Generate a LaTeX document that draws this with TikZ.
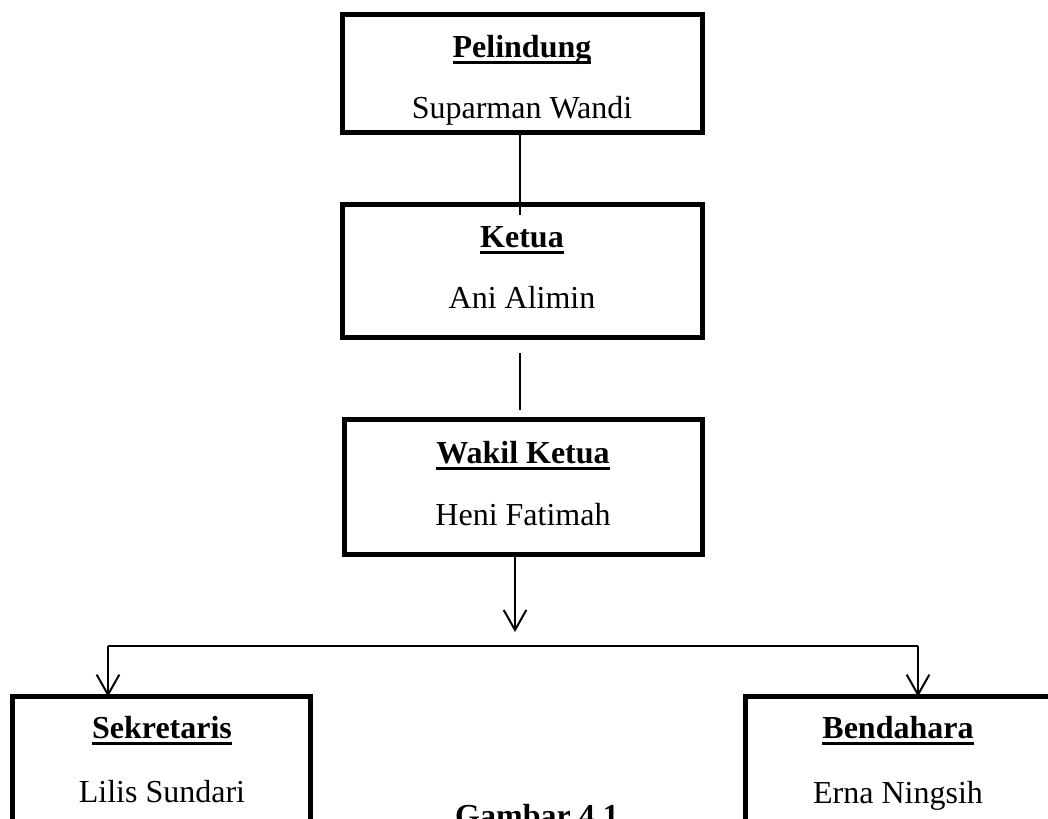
\documentclass[tikz,border=0pt]{standalone}
\usepackage{fontspec}
\setmainfont{Liberation Serif}
\usetikzlibrary{arrows.meta}
\newcommand{\garisbawah}[1]{\setbox0=\hbox{#1}\rlap{\rule[-5.2pt]{\wd0}{2.4pt}}\box0}
\begin{document}
\begin{tikzpicture}[x=0.75pt, y=-0.75pt,
    kotak/.style={draw, line width=3.75pt, inner sep=0pt, outer sep=0pt},
    judul/.style={anchor=base, inner sep=0pt, font=\fontsize{24}{28}\selectfont\bfseries},
    nama/.style={anchor=base, inner sep=0pt, font=\fontsize{24}{28}\selectfont},
    garis/.style={line width=1.1pt},
    panah/.style={line width=1.1pt, -{Straight Barb[length=15pt, width=17pt, line width=1.5pt]}}]
    \useasboundingbox (0, 0) rectangle (1048, 818);
    \clip (0, 0) rectangle (1048, 818);
    \fill[white] (0, 0) rectangle (1048, 818);

    \node[kotak, minimum width=270pt, minimum height=88.5pt] (pel) at (522.5, 73.5) {};
    \node[kotak, minimum width=270pt, minimum height=99.75pt] (ket) at (522.5, 271) {};
    \node[kotak, minimum width=268.5pt, minimum height=101.25pt] (wak) at (523.5, 487) {};
    \node[kotak, minimum width=223.5pt, minimum height=110pt] (sek) at (161.5, 770) {};
    \node[kotak, minimum width=228.75pt, minimum height=110pt] (ben) at (898, 770) {};

    \node[judul] (pelT) at (522, 57) {\garisbawah{Pelindung}};
    \node[nama] (pelN) at (522, 118) {Suparman Wandi};
    \node[judul] (ketT) at (522, 247) {\garisbawah{Ketua}};
    \node[nama] (ketN) at (522, 308) {Ani Alimin};
    \node[judul] (wakT) at (523, 463) {\garisbawah{Wakil Ketua}};
    \node[nama] (wakN) at (523, 525) {Heni Fatimah};
    \node[judul] (sekT) at (162, 738) {\garisbawah{Sekretaris}};
    \node[nama] (sekN) at (162, 802) {Lilis Sundari};
    \node[judul] (benT) at (898, 738) {\garisbawah{Bendahara}};
    \node[nama] (benN) at (898, 803) {Erna Ningsih};
    \node[judul] (cap) at (537, 826) {Gambar 4.1};

    \coordinate (ketIn) at (520, 215);
    \coordinate (ketOut) at (520, 353);
    \coordinate (wakIn) at (520, 410);
    \coordinate (wakTip) at (515, 632);
    \coordinate (busL) at (108, 646);
    \coordinate (busR) at (918, 646);

    \draw[garis] (pel.south -| ketIn) -- (ketIn);
    \draw[garis] (ketOut) -- (wakIn);
    \draw[panah] (wak.south -| wakTip) -- (wakTip);
    \draw[garis] (busL) -- (busR);
    \draw[panah] (busL) -- (sek.north -| busL);
    \draw[panah] (busR) -- (ben.north -| busR);
\end{tikzpicture}
\end{document}
